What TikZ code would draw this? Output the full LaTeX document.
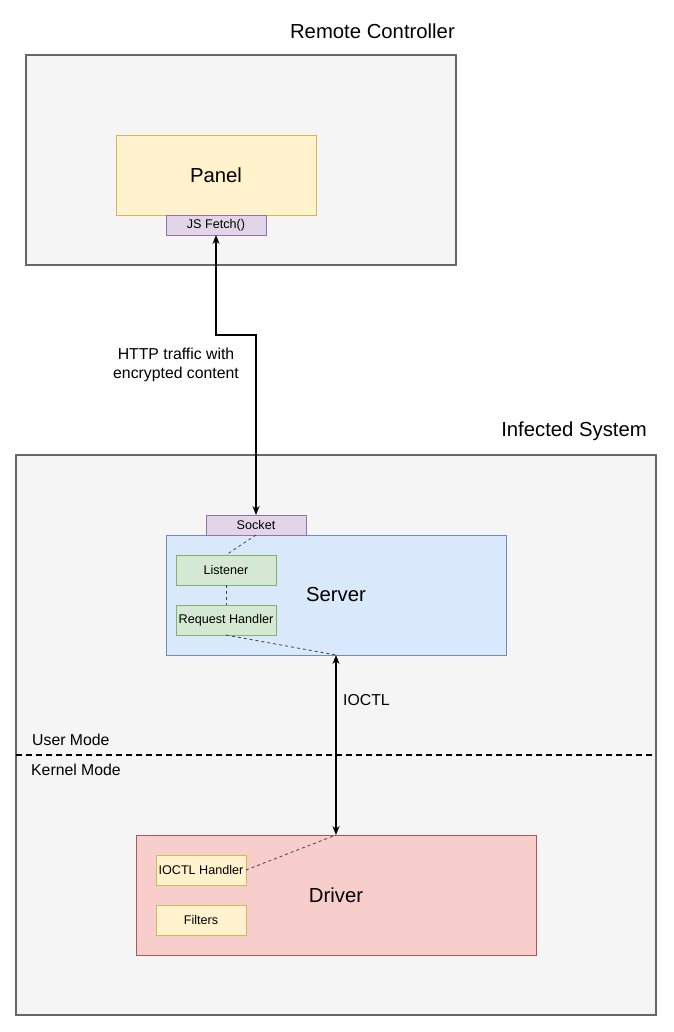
\documentclass[tikz,border=0pt]{standalone}
\usepackage{fontspec}
\setmainfont{Liberation Sans}
\usetikzlibrary{arrows.meta}
\usetikzlibrary{positioning}
\usepackage{xcolor}

\definecolor{areafill}{HTML}{F5F5F5}
\definecolor{areadraw}{HTML}{666666}
\definecolor{yelfill}{HTML}{FFF2CC}
\definecolor{yeldraw}{HTML}{D6B656}
\definecolor{purfill}{HTML}{E1D5E7}
\definecolor{purdraw}{HTML}{9673A6}
\definecolor{bluefill}{HTML}{DAE8FC}
\definecolor{bluedraw}{HTML}{6C8EBF}
\definecolor{grnfill}{HTML}{D5E8D4}
\definecolor{grndraw}{HTML}{82B366}
\definecolor{redfill}{HTML}{F8CECC}
\definecolor{reddraw}{HTML}{B85450}

\tikzset{
  area/.style={draw=areadraw, fill=areafill, line width=2pt, inner sep=0pt, outer sep=0pt},
  bigbox/.style={draw=#1draw, fill=#1fill, line width=0.8pt, inner sep=0pt, outer sep=0pt,
    font=\fontsize{20.3}{22}\selectfont},
  smallbox/.style={draw=#1draw, fill=#1fill, line width=0.8pt, inner sep=0pt, outer sep=0pt,
    minimum width=100pt, minimum height=30pt, font=\fontsize{12.6}{14}\selectfont},
  tab/.style={smallbox=pur, minimum height=20pt},
  title/.style={font=\fontsize{20.3}{22}\selectfont, inner sep=0pt},
  lbl/.style={font=\fontsize{15.8}{19}\selectfont, inner sep=0pt, align=center},
  dbl/.style={{Stealth[length=9pt,width=7pt]}-{Stealth[length=9pt,width=7pt]}, line width=1.8pt},
  link/.style={dashed, line width=0.8pt, draw=black!75},
}

\begin{document}
\begin{tikzpicture}[x=1pt, y=-1pt]
  \useasboundingbox (0,0) rectangle (673,1032);

  % Top: remote controller
  \node[area, minimum width=430pt, minimum height=210pt] (remote) at (241,160) {};
  \node[title, anchor=east] (remotet) at (455,31) {Remote Controller};
  \node[bigbox=yel, minimum width=200pt, minimum height=80pt] (panel) at (216,175) {Panel};
  \node[tab, below=0pt of panel] (fetch) {JS Fetch()};

  % Bottom: infected system
  \node[area, minimum width=640pt, minimum height=560pt] (infected) at (336,735) {};
  \node[title, anchor=east] (infectedt) at (647,431) {Infected System};

  \node[bigbox=blue, minimum width=340pt, minimum height=120pt] (server) at (336,595) {Server};
  \node[tab, above=0pt of server.north west, xshift=90pt] (socket) {Socket};
  \node[smallbox=grn] (listener) at (226,570) {Listener};
  \node[smallbox=grn, below=20pt of listener] (handler) {Request Handler};

  \node[bigbox=red, minimum width=400pt, minimum height=120pt] (driver) at (336,895) {Driver};
  \node[smallbox=yel, minimum width=90pt] (ioctlh) at (201,870) {IOCTL Handler};
  \node[smallbox=yel, minimum width=90pt, below=20pt of ioctlh] (filters) {Filters};

  % mode boundary
  \coordinate (model) at (16,755);
  \coordinate (moder) at (656,755);
  \draw[line width=1.6pt, dash pattern=on 6pt off 4pt] (model) -- (moder);
  \node[lbl, anchor=west] (user) at (32,740) {User Mode};
  \node[lbl, anchor=west] (kernel) at (31,770) {Kernel Mode};

  % connectors
  \draw[dbl] (fetch.south) -- ++(0,100) -| (socket.north);
  \node[lbl] (http) at (176,365) {HTTP traffic with\\encrypted content};
  \draw[dbl] (server.south) -- (driver.north);
  \node[lbl, anchor=west] (ioctl) at (343,700) {IOCTL};

  \draw[link] (socket.south) -- (listener.north);
  \draw[link] (listener.south) -- (handler.north);
  \draw[link] (handler.south) -- (server.south);
  \draw[link] (ioctlh.east) -- (driver.north);
\end{tikzpicture}
\end{document}
